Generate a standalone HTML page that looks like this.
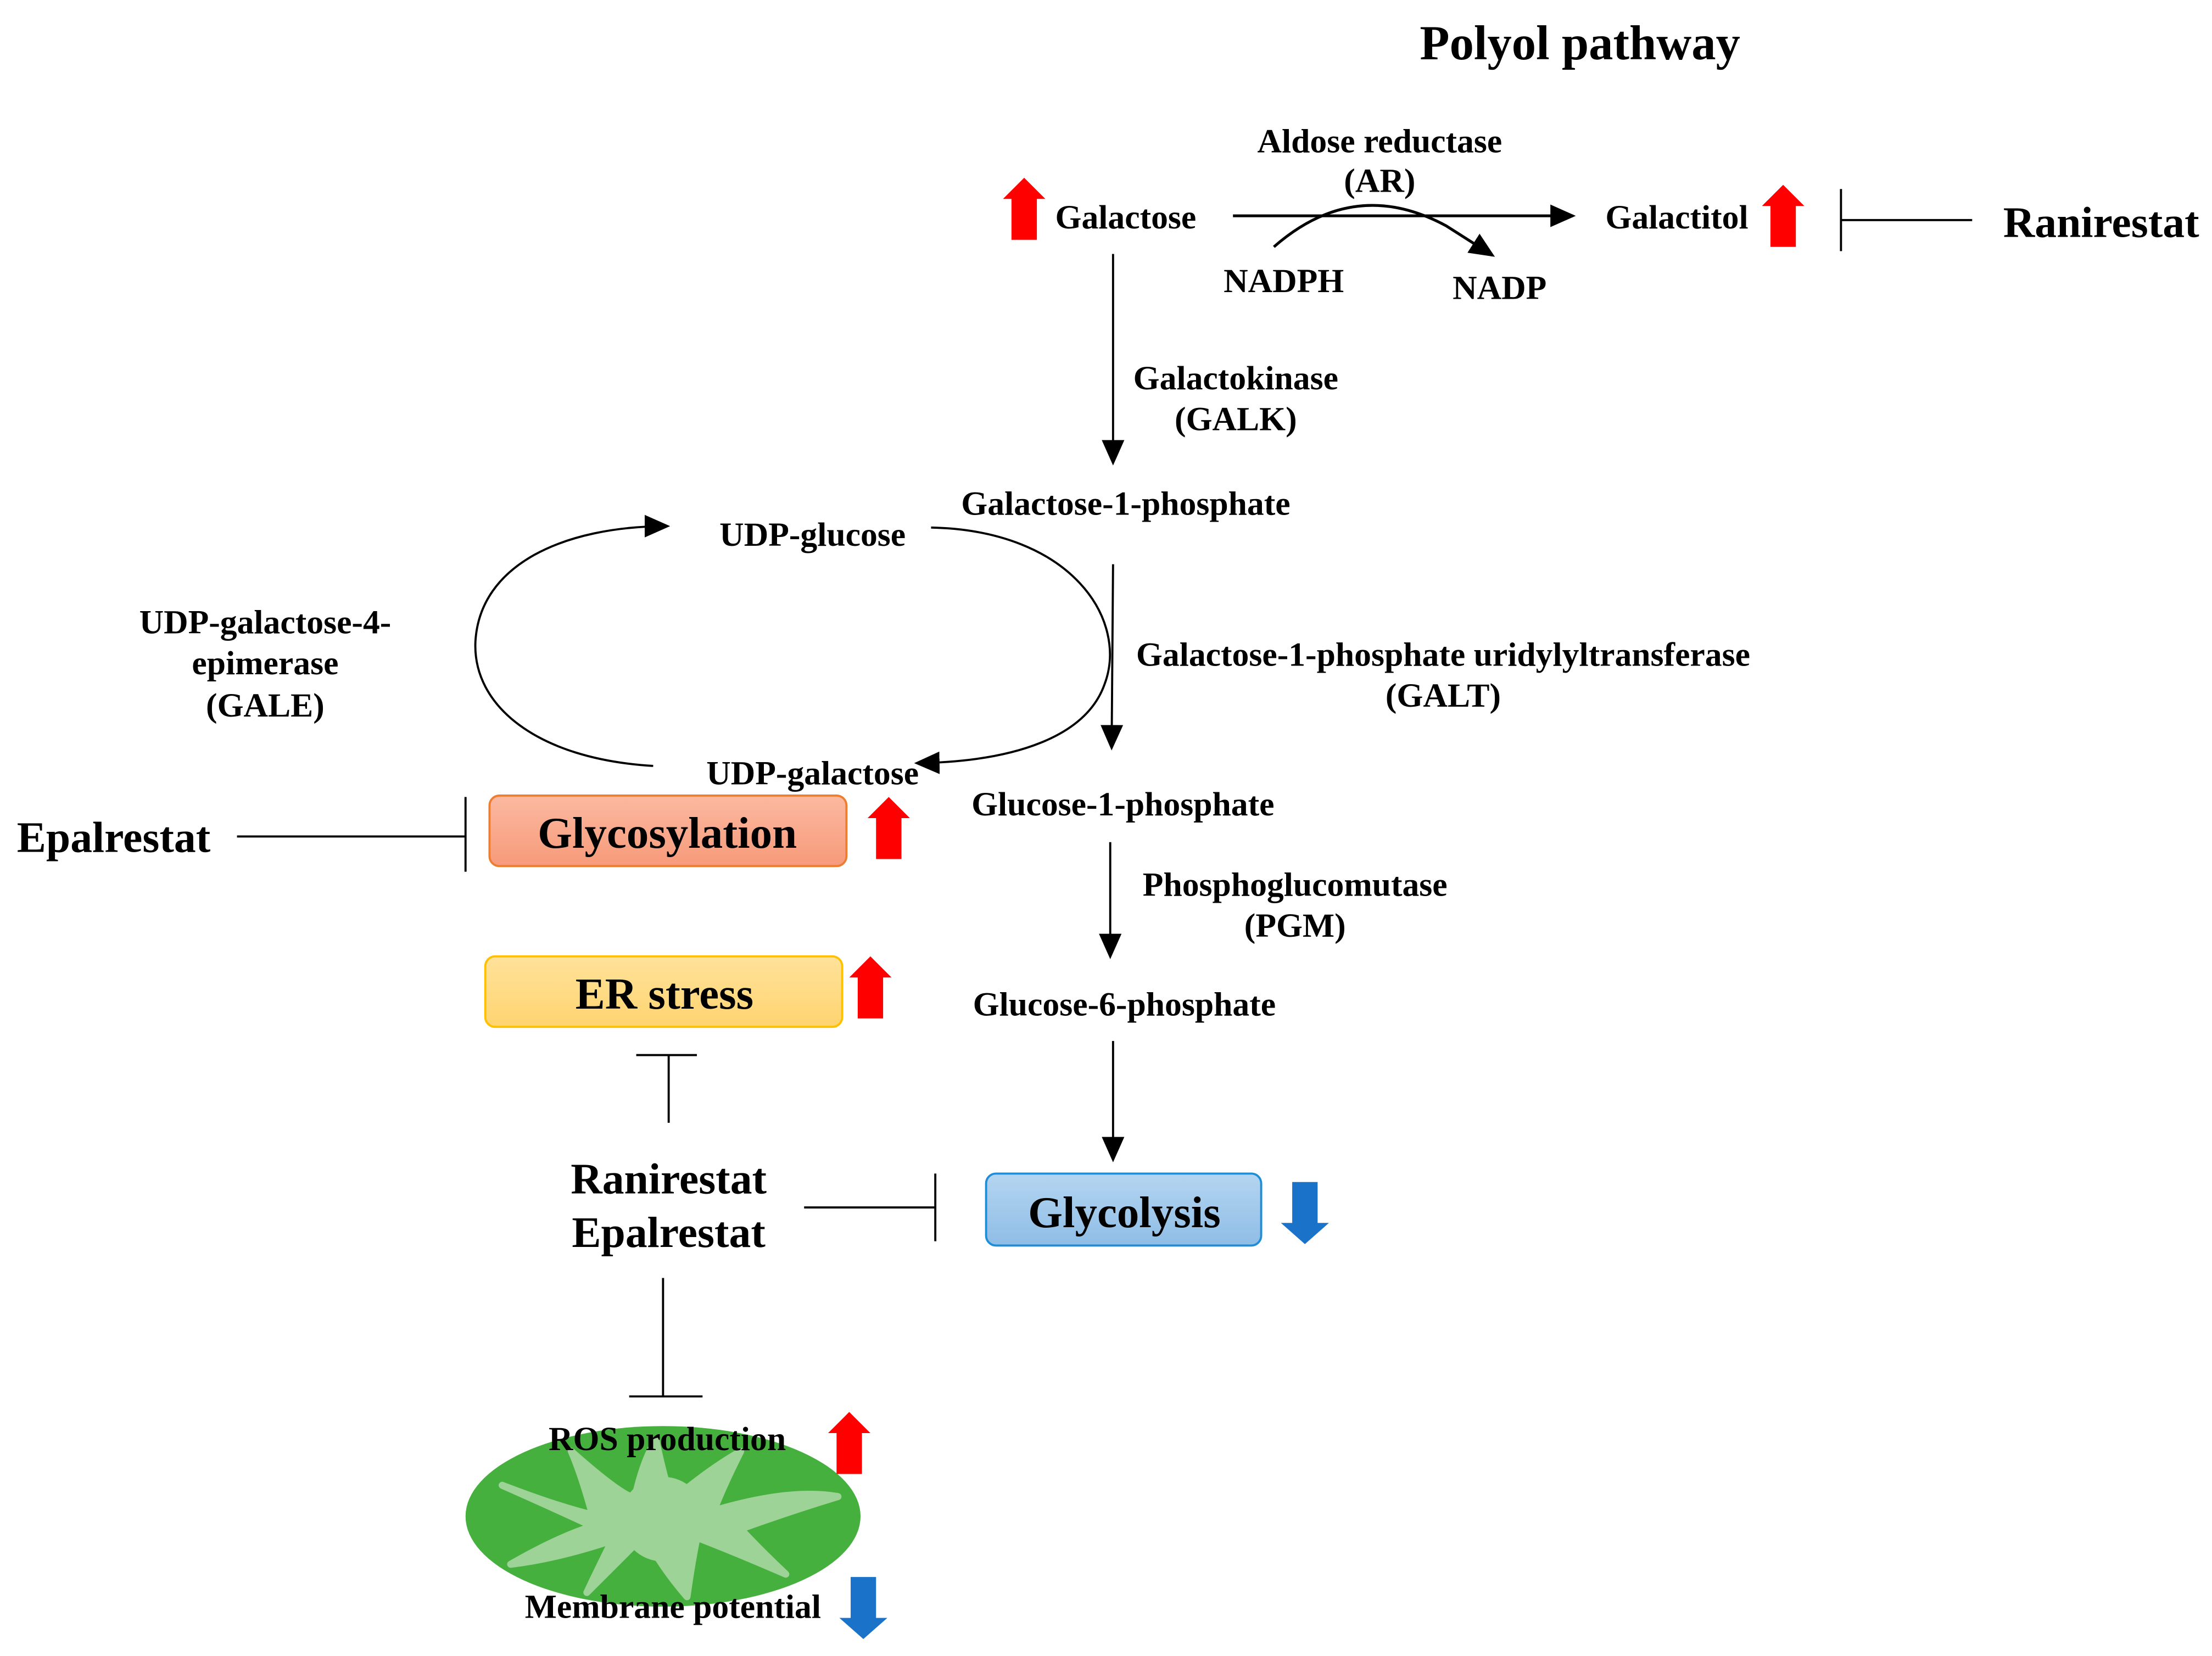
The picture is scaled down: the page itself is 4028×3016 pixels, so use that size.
<!DOCTYPE html>
<html><head><meta charset="utf-8"><style>
html,body{margin:0;padding:0;background:#fff}
svg{display:block}
text{font-family:"Liberation Serif",serif;font-weight:bold;fill:#000}
</style></head><body>
<svg width="4028" height="3016" viewBox="0 0 1568 1174" xmlns="http://www.w3.org/2000/svg">
<defs>
<marker id="ah2" markerWidth="18" markerHeight="18" refX="16" refY="9" orient="auto" markerUnits="userSpaceOnUse" viewBox="0 0 18 18"><path d="M0,1 L18,9 L0,17z" fill="#000"/></marker>
<linearGradient id="g1" x1="0" y1="0" x2="0" y2="1"><stop offset="0" stop-color="#fbb9a0"/><stop offset="1" stop-color="#f79a7a"/></linearGradient>
<linearGradient id="g2" x1="0" y1="0" x2="0" y2="1"><stop offset="0" stop-color="#ffe29a"/><stop offset="1" stop-color="#ffd470"/></linearGradient>
<linearGradient id="g3" x1="0" y1="0" x2="0" y2="1"><stop offset="0" stop-color="#b4d5f0"/><stop offset="1" stop-color="#8fbde6"/></linearGradient>
<g id="up"><path d="M0,15 L15,0 L30,15 L24,15 L24,44 L6,44 L6,15z" fill="#ff0000"/></g>
<g id="down"><path d="M0,29 L17,44 L34,29 L26,29 L26,0 L8,0 L8,29z" fill="#1a73c8"/></g>
</defs>

<text x="1120" y="42" font-size="34.5" text-anchor="middle">Polyol pathway</text>

<text x="978" y="108" font-size="24" text-anchor="middle">Aldose reductase</text>
<text x="978" y="136" font-size="24" text-anchor="middle">(AR)</text>
<use href="#up" x="711" y="126"/>
<text x="748" y="162" font-size="24">Galactose</text>
<line x1="874" y1="153" x2="1115" y2="153" stroke="#000" stroke-width="2" marker-end="url(#ah2)"/>
<path d="M903,175 Q960,125 1025,160 L1058,181" fill="none" stroke="#000" stroke-width="2" marker-end="url(#ah2)"/>
<text x="910" y="207" font-size="24" text-anchor="middle">NADPH</text>
<text x="1063" y="212" font-size="24" text-anchor="middle">NADP</text>
<text x="1138" y="162" font-size="24">Galactitol</text>
<use href="#up" x="1249" y="131"/>
<line x1="1305" y1="156" x2="1398" y2="156" stroke="#000" stroke-width="1.5"/>
<line x1="1305" y1="134" x2="1305" y2="178" stroke="#000" stroke-width="1.5"/>
<text x="1420" y="168" font-size="31">Ranirestat</text>

<line x1="789" y1="180" x2="789" y2="328" stroke="#000" stroke-width="1.5" marker-end="url(#ah2)"/>
<text x="876" y="276" font-size="24" text-anchor="middle">Galactokinase</text>
<text x="876" y="305" font-size="24" text-anchor="middle">(GALK)</text>
<text x="798" y="365" font-size="24" text-anchor="middle">Galactose-1-phosphate</text>

<text x="576" y="387" font-size="24" text-anchor="middle">UDP-glucose</text>
<path d="M660,374 C760,376 800,440 783,485 C770,522 720,540 650,541" fill="none" stroke="#000" stroke-width="1.5" marker-end="url(#ah2)"/>
<path d="M463,543 C380,538 335,500 337,455 C340,400 400,373 473,373" fill="none" stroke="#000" stroke-width="1.5" marker-end="url(#ah2)"/>
<line x1="789" y1="400" x2="788" y2="530" stroke="#000" stroke-width="1.5" marker-end="url(#ah2)"/>
<text x="1023" y="472" font-size="24" text-anchor="middle">Galactose-1-phosphate uridylyltransferase</text>
<text x="1023" y="501" font-size="24" text-anchor="middle">(GALT)</text>
<text x="188" y="449" font-size="24" text-anchor="middle">UDP-galactose-4-</text>
<text x="188" y="478" font-size="24" text-anchor="middle">epimerase</text>
<text x="188" y="508" font-size="24" text-anchor="middle">(GALE)</text>
<text x="576" y="556" font-size="24" text-anchor="middle">UDP-galactose</text>
<text x="796" y="578" font-size="24" text-anchor="middle">Glucose-1-phosphate</text>

<rect x="347" y="564" width="253" height="50" rx="7" fill="url(#g1)" stroke="#ed7d31" stroke-width="1.5"/>
<text x="473" y="601" font-size="31.5" text-anchor="middle">Glycosylation</text>
<use href="#up" x="615" y="565"/>
<text x="12" y="604" font-size="31">Epalrestat</text>
<line x1="168" y1="593" x2="330" y2="593" stroke="#000" stroke-width="1.5"/>
<line x1="330" y1="565" x2="330" y2="618" stroke="#000" stroke-width="1.5"/>

<line x1="787" y1="597" x2="787" y2="678" stroke="#000" stroke-width="1.5" marker-end="url(#ah2)"/>
<text x="918" y="635" font-size="24" text-anchor="middle">Phosphoglucomutase</text>
<text x="918" y="664" font-size="24" text-anchor="middle">(PGM)</text>

<rect x="344" y="678" width="253" height="50" rx="7" fill="url(#g2)" stroke="#ffc000" stroke-width="1.5"/>
<text x="471" y="715" font-size="31.5" text-anchor="middle">ER stress</text>
<use href="#up" x="602" y="678"/>
<text x="797" y="720" font-size="24" text-anchor="middle">Glucose-6-phosphate</text>
<line x1="789" y1="738" x2="789" y2="822" stroke="#000" stroke-width="1.5" marker-end="url(#ah2)"/>

<line x1="474" y1="748" x2="474" y2="796" stroke="#000" stroke-width="1.5"/>
<line x1="451" y1="748" x2="494" y2="748" stroke="#000" stroke-width="1.5"/>
<text x="474" y="846" font-size="31" text-anchor="middle">Ranirestat</text>
<text x="474" y="884" font-size="31" text-anchor="middle">Epalrestat</text>
<line x1="570" y1="856" x2="663" y2="856" stroke="#000" stroke-width="1.5"/>
<line x1="663" y1="832" x2="663" y2="880" stroke="#000" stroke-width="1.5"/>

<rect x="699" y="832" width="195" height="51" rx="7" fill="url(#g3)" stroke="#1f8ed6" stroke-width="1.5"/>
<text x="797" y="870" font-size="31.5" text-anchor="middle">Glycolysis</text>
<use href="#down" x="908" y="838"/>

<line x1="470" y1="906" x2="470" y2="990" stroke="#000" stroke-width="1.5"/>
<line x1="446" y1="990" x2="498" y2="990" stroke="#000" stroke-width="1.5"/>

<ellipse cx="470" cy="1075" rx="140" ry="64" fill="#45b03d"/>
<path d="M356,1053 Q395,1068 420,1074 Q412,1045 405,1029 Q440,1060 450,1062 Q456,1035 465,1021 Q470,1045 476,1064 Q505,1040 525,1029 Q512,1055 506,1071 Q560,1055 594,1061 Q558,1072 525,1084 Q540,1100 557,1116 Q520,1100 494,1090 Q490,1110 487,1132 Q468,1110 457,1088 Q435,1110 416,1129 Q425,1110 434,1092 Q395,1105 362,1109 Q395,1090 420,1082 Q390,1068 356,1053z" fill="#9dd396" stroke="#9dd396" stroke-width="5" stroke-linejoin="round"/>
<circle cx="470" cy="1077" r="30" fill="#9dd396"/>
<text x="473" y="1028" font-size="24" text-anchor="middle">ROS production</text>
<use href="#up" x="587" y="1001"/>
<text x="477" y="1147" font-size="24" text-anchor="middle">Membrane potential</text>
<use href="#down" x="595" y="1118"/>
</svg>
</body></html>
